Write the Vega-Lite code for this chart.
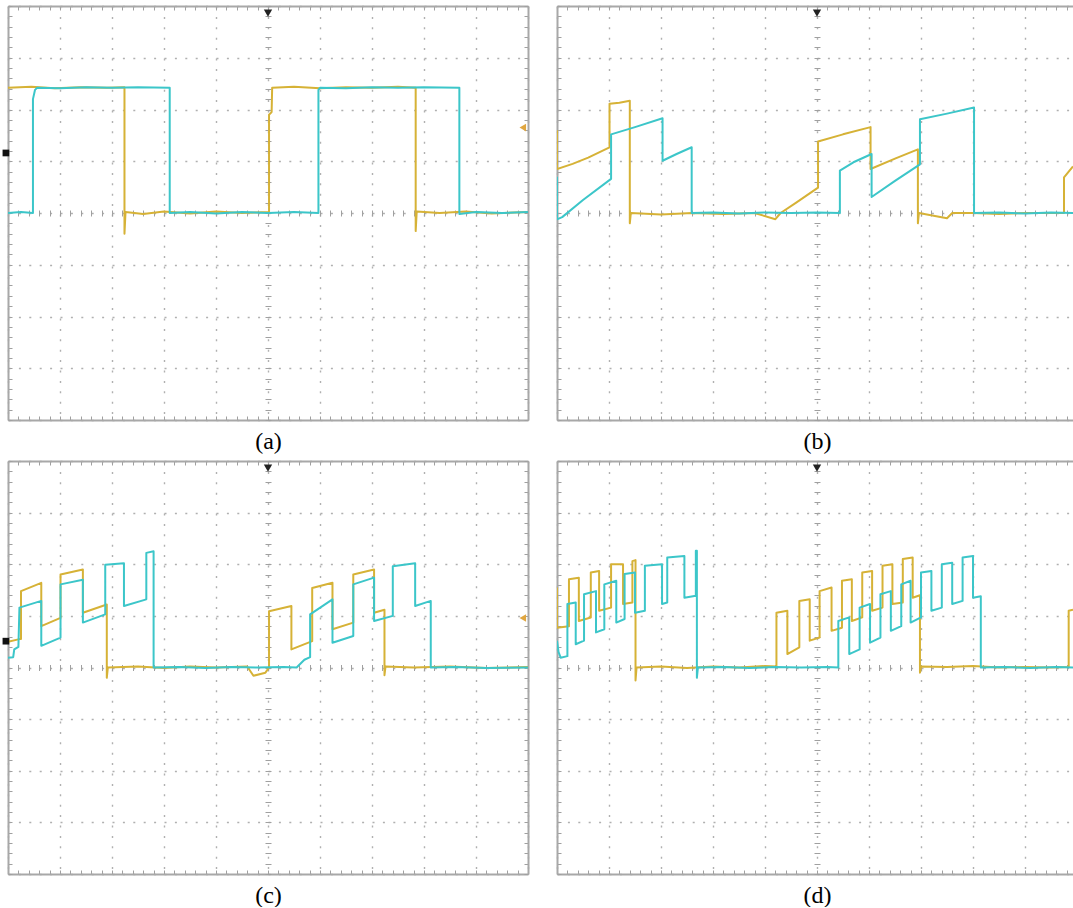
{
"$schema": "https://vega.github.io/schema/vega-lite/v6.json",
"padding": {"left": 2, "top": 5, "right": 0, "bottom": 0},
"background": "white",
"bounds": "flush",
"columns": 2,
"spacing": {"row": 41, "column": 29},
"config": {
  "view": {"stroke": null},
  "axis": {"labels": false, "grid": false, "domain": false, "ticks": true, "tickColor": "#a0a0a0", "tickWidth": 1, "tickSize": -4, "domainColor": "#a8a8a8", "domainWidth": 2, "gridColor": "#b0b0b0", "gridDash": [2, 8.4], "gridWidth": 1.4, "titleFont": "Liberation Serif", "titleFontSize": 24, "titleFontWeight": "normal", "titleColor": "#000000"}
},
"datasets": {
"a": [
{"ch":"Y","t":0,"v":2.42},{"ch":"Y","t":0.45,"v":2.44},{"ch":"Y","t":0.9,"v":2.41},{"ch":"Y","t":1.4,"v":2.43},{"ch":"Y","t":1.9,"v":2.42},{"ch":"Y","t":2.24,"v":2.43},{"ch":"Y","t":2.24,"v":-0.4},{"ch":"Y","t":2.26,"v":0.02},{"ch":"Y","t":2.6,"v":-0.02},{"ch":"Y","t":3.0,"v":0.03},{"ch":"Y","t":3.5,"v":-0.01},{"ch":"Y","t":4.0,"v":0.03},{"ch":"Y","t":4.5,"v":0.0},{"ch":"Y","t":5.02,"v":0.02},{"ch":"Y","t":5.02,"v":1.9},{"ch":"Y","t":5.07,"v":1.95},{"ch":"Y","t":5.08,"v":2.42},{"ch":"Y","t":5.5,"v":2.44},{"ch":"Y","t":6.0,"v":2.41},{"ch":"Y","t":6.5,"v":2.43},{"ch":"Y","t":7.0,"v":2.42},{"ch":"Y","t":7.5,"v":2.44},{"ch":"Y","t":7.84,"v":2.42},{"ch":"Y","t":7.84,"v":-0.35},{"ch":"Y","t":7.86,"v":0.03},{"ch":"Y","t":8.3,"v":0.0},{"ch":"Y","t":8.8,"v":0.03},{"ch":"Y","t":9.3,"v":-0.01},{"ch":"Y","t":10,"v":0.02},
{"ch":"C","t":0,"v":0.0},{"ch":"C","t":0.25,"v":0.02},{"ch":"C","t":0.48,"v":0.0},{"ch":"C","t":0.48,"v":2.2},{"ch":"C","t":0.52,"v":2.38},{"ch":"C","t":0.56,"v":2.42},{"ch":"C","t":1.0,"v":2.41},{"ch":"C","t":1.5,"v":2.43},{"ch":"C","t":2.0,"v":2.42},{"ch":"C","t":2.5,"v":2.43},{"ch":"C","t":3.11,"v":2.42},{"ch":"C","t":3.11,"v":0.0},{"ch":"C","t":3.5,"v":0.02},{"ch":"C","t":4.0,"v":-0.01},{"ch":"C","t":4.5,"v":0.02},{"ch":"C","t":5.0,"v":0.0},{"ch":"C","t":5.5,"v":0.02},{"ch":"C","t":5.97,"v":0.0},{"ch":"C","t":5.97,"v":2.38},{"ch":"C","t":6.0,"v":2.42},{"ch":"C","t":6.5,"v":2.41},{"ch":"C","t":7.0,"v":2.43},{"ch":"C","t":7.5,"v":2.42},{"ch":"C","t":8.0,"v":2.43},{"ch":"C","t":8.68,"v":2.42},{"ch":"C","t":8.68,"v":-0.02},{"ch":"C","t":9.0,"v":0.02},{"ch":"C","t":9.5,"v":0.0},{"ch":"C","t":10,"v":0.02}
],
"b": [
{"ch":"Y","t":0,"v":1.6},{"ch":"Y","t":0,"v":0.85},{"ch":"Y","t":0.3,"v":0.95},{"ch":"Y","t":0.6,"v":1.07},{"ch":"Y","t":1.01,"v":1.27},{"ch":"Y","t":1.01,"v":2.11},{"ch":"Y","t":1.2,"v":2.13},{"ch":"Y","t":1.4,"v":2.17},{"ch":"Y","t":1.4,"v":-0.2},{"ch":"Y","t":1.42,"v":0.0},{"ch":"Y","t":2.0,"v":-0.03},{"ch":"Y","t":2.6,"v":0.0},{"ch":"Y","t":3.2,"v":-0.02},{"ch":"Y","t":3.8,"v":0.0},{"ch":"Y","t":4.2,"v":-0.12},{"ch":"Y","t":4.3,"v":0.0},{"ch":"Y","t":4.6,"v":0.2},{"ch":"Y","t":5.02,"v":0.49},{"ch":"Y","t":5.02,"v":1.38},{"ch":"Y","t":5.5,"v":1.52},{"ch":"Y","t":6.03,"v":1.66},{"ch":"Y","t":6.03,"v":0.85},{"ch":"Y","t":6.5,"v":1.05},{"ch":"Y","t":6.94,"v":1.23},{"ch":"Y","t":6.94,"v":-0.2},{"ch":"Y","t":6.96,"v":0.0},{"ch":"Y","t":7.5,"v":-0.1},{"ch":"Y","t":7.6,"v":0.0},{"ch":"Y","t":8.0,"v":0.0},{"ch":"Y","t":8.5,"v":-0.02},{"ch":"Y","t":9.0,"v":0.0},{"ch":"Y","t":9.75,"v":0.0},{"ch":"Y","t":9.75,"v":0.69},{"ch":"Y","t":9.923,"v":0.9},
{"ch":"C","t":0,"v":0.7},{"ch":"C","t":0,"v":-0.12},{"ch":"C","t":0.1,"v":-0.08},{"ch":"C","t":0.5,"v":0.25},{"ch":"C","t":1.04,"v":0.66},{"ch":"C","t":1.04,"v":1.52},{"ch":"C","t":1.5,"v":1.66},{"ch":"C","t":2.03,"v":1.83},{"ch":"C","t":2.03,"v":1.01},{"ch":"C","t":2.3,"v":1.14},{"ch":"C","t":2.59,"v":1.27},{"ch":"C","t":2.59,"v":0.0},{"ch":"C","t":3.0,"v":0.01},{"ch":"C","t":3.5,"v":-0.01},{"ch":"C","t":4.0,"v":0.01},{"ch":"C","t":4.5,"v":0.0},{"ch":"C","t":5.0,"v":0.01},{"ch":"C","t":5.44,"v":0.0},{"ch":"C","t":5.44,"v":0.82},{"ch":"C","t":5.7,"v":0.98},{"ch":"C","t":6.05,"v":1.14},{"ch":"C","t":6.05,"v":0.31},{"ch":"C","t":6.5,"v":0.62},{"ch":"C","t":6.98,"v":0.94},{"ch":"C","t":6.98,"v":1.81},{"ch":"C","t":7.5,"v":1.92},{"ch":"C","t":8.02,"v":2.04},{"ch":"C","t":8.02,"v":0.0},{"ch":"C","t":8.5,"v":0.01},{"ch":"C","t":9.0,"v":-0.01},{"ch":"C","t":9.5,"v":0.01},{"ch":"C","t":9.923,"v":0.0}
],
"c": [
{"ch":"Y","t":0,"v":0.5},{"ch":"Y","t":0.22,"v":0.55},{"ch":"Y","t":0.25,"v":0.55},{"ch":"Y","t":0.25,"v":1.48},{"ch":"Y","t":0.64,"v":1.64},{"ch":"Y","t":0.64,"v":0.8},{"ch":"Y","t":1.01,"v":0.96},{"ch":"Y","t":1.01,"v":1.8},{"ch":"Y","t":1.44,"v":1.9},{"ch":"Y","t":1.44,"v":1.06},{"ch":"Y","t":1.9,"v":1.22},{"ch":"Y","t":1.9,"v":-0.2},{"ch":"Y","t":1.92,"v":0.0},{"ch":"Y","t":2.5,"v":0.02},{"ch":"Y","t":3.0,"v":-0.01},{"ch":"Y","t":3.5,"v":0.02},{"ch":"Y","t":4.0,"v":0.0},{"ch":"Y","t":4.6,"v":0.02},{"ch":"Y","t":4.72,"v":-0.16},{"ch":"Y","t":4.95,"v":-0.1},{"ch":"Y","t":5.02,"v":0.0},{"ch":"Y","t":5.02,"v":1.09},{"ch":"Y","t":5.45,"v":1.19},{"ch":"Y","t":5.45,"v":0.35},{"ch":"Y","t":5.85,"v":0.51},{"ch":"Y","t":5.85,"v":1.54},{"ch":"Y","t":6.24,"v":1.64},{"ch":"Y","t":6.24,"v":0.74},{"ch":"Y","t":6.64,"v":0.87},{"ch":"Y","t":6.64,"v":1.8},{"ch":"Y","t":7.04,"v":1.9},{"ch":"Y","t":7.04,"v":1.06},{"ch":"Y","t":7.24,"v":1.12},{"ch":"Y","t":7.24,"v":-0.15},{"ch":"Y","t":7.26,"v":0.02},{"ch":"Y","t":7.8,"v":0.0},{"ch":"Y","t":8.5,"v":0.02},{"ch":"Y","t":9.2,"v":-0.01},{"ch":"Y","t":10,"v":0.01},
{"ch":"C","t":0,"v":0.19},{"ch":"C","t":0.1,"v":0.2},{"ch":"C","t":0.12,"v":0.35},{"ch":"C","t":0.2,"v":0.4},{"ch":"C","t":0.22,"v":1.16},{"ch":"C","t":0.64,"v":1.29},{"ch":"C","t":0.64,"v":0.42},{"ch":"C","t":1.01,"v":0.58},{"ch":"C","t":1.01,"v":1.61},{"ch":"C","t":1.44,"v":1.7},{"ch":"C","t":1.44,"v":0.87},{"ch":"C","t":1.87,"v":1.03},{"ch":"C","t":1.87,"v":1.99},{"ch":"C","t":2.23,"v":2.02},{"ch":"C","t":2.23,"v":1.19},{"ch":"C","t":2.66,"v":1.32},{"ch":"C","t":2.66,"v":2.22},{"ch":"C","t":2.8,"v":2.25},{"ch":"C","t":2.8,"v":0.0},{"ch":"C","t":3.3,"v":0.01},{"ch":"C","t":3.8,"v":-0.01},{"ch":"C","t":4.3,"v":0.01},{"ch":"C","t":4.8,"v":0.0},{"ch":"C","t":5.3,"v":0.01},{"ch":"C","t":5.55,"v":0.0},{"ch":"C","t":5.7,"v":0.15},{"ch":"C","t":5.81,"v":0.2},{"ch":"C","t":5.81,"v":1.03},{"ch":"C","t":6.24,"v":1.32},{"ch":"C","t":6.24,"v":0.48},{"ch":"C","t":6.64,"v":0.61},{"ch":"C","t":6.64,"v":1.61},{"ch":"C","t":7.04,"v":1.74},{"ch":"C","t":7.04,"v":0.9},{"ch":"C","t":7.4,"v":1.0},{"ch":"C","t":7.4,"v":1.96},{"ch":"C","t":7.83,"v":2.02},{"ch":"C","t":7.83,"v":1.19},{"ch":"C","t":8.13,"v":1.29},{"ch":"C","t":8.13,"v":0.0},{"ch":"C","t":8.6,"v":0.01},{"ch":"C","t":9.2,"v":-0.01},{"ch":"C","t":10,"v":0.0}
],
"d": [
{"ch":"Y","t":0,"v":1.55},{"ch":"Y","t":0,"v":0.77},{"ch":"Y","t":0.23,"v":0.8},{"ch":"Y","t":0.23,"v":1.71},{"ch":"Y","t":0.42,"v":1.74},{"ch":"Y","t":0.42,"v":0.9},{"ch":"Y","t":0.65,"v":0.97},{"ch":"Y","t":0.65,"v":1.84},{"ch":"Y","t":0.81,"v":1.87},{"ch":"Y","t":0.81,"v":1.1},{"ch":"Y","t":1.04,"v":1.16},{"ch":"Y","t":1.04,"v":2.0},{"ch":"Y","t":1.27,"v":2.0},{"ch":"Y","t":1.27,"v":1.23},{"ch":"Y","t":1.45,"v":1.26},{"ch":"Y","t":1.45,"v":2.06},{"ch":"Y","t":1.51,"v":2.08},{"ch":"Y","t":1.51,"v":-0.25},{"ch":"Y","t":1.53,"v":0.0},{"ch":"Y","t":2.0,"v":0.02},{"ch":"Y","t":2.5,"v":-0.01},{"ch":"Y","t":3.0,"v":0.02},{"ch":"Y","t":3.5,"v":0.0},{"ch":"Y","t":4.0,"v":0.03},{"ch":"Y","t":4.22,"v":0.02},{"ch":"Y","t":4.22,"v":1.06},{"ch":"Y","t":4.43,"v":1.1},{"ch":"Y","t":4.43,"v":0.26},{"ch":"Y","t":4.66,"v":0.39},{"ch":"Y","t":4.66,"v":1.29},{"ch":"Y","t":4.86,"v":1.32},{"ch":"Y","t":4.86,"v":0.52},{"ch":"Y","t":5.05,"v":0.58},{"ch":"Y","t":5.05,"v":1.48},{"ch":"Y","t":5.28,"v":1.55},{"ch":"Y","t":5.28,"v":0.71},{"ch":"Y","t":5.48,"v":0.77},{"ch":"Y","t":5.48,"v":1.68},{"ch":"Y","t":5.67,"v":1.71},{"ch":"Y","t":5.67,"v":0.9},{"ch":"Y","t":5.87,"v":0.97},{"ch":"Y","t":5.87,"v":1.84},{"ch":"Y","t":6.06,"v":1.87},{"ch":"Y","t":6.06,"v":1.1},{"ch":"Y","t":6.26,"v":1.16},{"ch":"Y","t":6.26,"v":1.97},{"ch":"Y","t":6.45,"v":2.0},{"ch":"Y","t":6.45,"v":1.23},{"ch":"Y","t":6.65,"v":1.26},{"ch":"Y","t":6.65,"v":2.1},{"ch":"Y","t":6.84,"v":2.13},{"ch":"Y","t":6.84,"v":1.35},{"ch":"Y","t":6.98,"v":1.4},{"ch":"Y","t":6.98,"v":-0.1},{"ch":"Y","t":7.0,"v":0.02},{"ch":"Y","t":7.5,"v":0.01},{"ch":"Y","t":8.0,"v":0.03},{"ch":"Y","t":8.5,"v":0.0},{"ch":"Y","t":9.0,"v":0.01},{"ch":"Y","t":9.5,"v":0.0},{"ch":"Y","t":9.84,"v":0.01},{"ch":"Y","t":9.84,"v":1.1},{"ch":"Y","t":9.923,"v":1.12},
{"ch":"C","t":0,"v":0.52},{"ch":"C","t":0.03,"v":0.3},{"ch":"C","t":0.07,"v":0.19},{"ch":"C","t":0.2,"v":0.22},{"ch":"C","t":0.2,"v":1.23},{"ch":"C","t":0.36,"v":1.26},{"ch":"C","t":0.36,"v":0.45},{"ch":"C","t":0.52,"v":0.52},{"ch":"C","t":0.52,"v":1.42},{"ch":"C","t":0.75,"v":1.48},{"ch":"C","t":0.75,"v":0.68},{"ch":"C","t":0.91,"v":0.74},{"ch":"C","t":0.91,"v":1.61},{"ch":"C","t":1.14,"v":1.68},{"ch":"C","t":1.14,"v":0.87},{"ch":"C","t":1.3,"v":0.94},{"ch":"C","t":1.3,"v":1.81},{"ch":"C","t":1.5,"v":1.84},{"ch":"C","t":1.5,"v":1.06},{"ch":"C","t":1.69,"v":1.1},{"ch":"C","t":1.69,"v":1.97},{"ch":"C","t":2.02,"v":2.0},{"ch":"C","t":2.02,"v":1.23},{"ch":"C","t":2.12,"v":1.26},{"ch":"C","t":2.12,"v":2.13},{"ch":"C","t":2.45,"v":2.16},{"ch":"C","t":2.45,"v":1.35},{"ch":"C","t":2.67,"v":1.39},{"ch":"C","t":2.67,"v":2.26},{"ch":"C","t":2.69,"v":2.26},{"ch":"C","t":2.69,"v":-0.2},{"ch":"C","t":2.71,"v":0.0},{"ch":"C","t":3.2,"v":0.01},{"ch":"C","t":3.7,"v":-0.01},{"ch":"C","t":4.2,"v":0.01},{"ch":"C","t":4.7,"v":0.0},{"ch":"C","t":5.2,"v":0.01},{"ch":"C","t":5.41,"v":0.0},{"ch":"C","t":5.41,"v":0.9},{"ch":"C","t":5.62,"v":0.97},{"ch":"C","t":5.62,"v":0.26},{"ch":"C","t":5.82,"v":0.35},{"ch":"C","t":5.82,"v":1.16},{"ch":"C","t":6.02,"v":1.23},{"ch":"C","t":6.02,"v":0.48},{"ch":"C","t":6.22,"v":0.58},{"ch":"C","t":6.22,"v":1.42},{"ch":"C","t":6.42,"v":1.48},{"ch":"C","t":6.42,"v":0.71},{"ch":"C","t":6.62,"v":0.8},{"ch":"C","t":6.62,"v":1.61},{"ch":"C","t":6.8,"v":1.68},{"ch":"C","t":6.8,"v":0.87},{"ch":"C","t":7.0,"v":0.97},{"ch":"C","t":7.0,"v":1.84},{"ch":"C","t":7.2,"v":1.87},{"ch":"C","t":7.2,"v":1.1},{"ch":"C","t":7.4,"v":1.16},{"ch":"C","t":7.4,"v":2.0},{"ch":"C","t":7.6,"v":2.03},{"ch":"C","t":7.6,"v":1.23},{"ch":"C","t":7.8,"v":1.29},{"ch":"C","t":7.8,"v":2.13},{"ch":"C","t":8.0,"v":2.16},{"ch":"C","t":8.0,"v":1.35},{"ch":"C","t":8.15,"v":1.38},{"ch":"C","t":8.15,"v":0.0},{"ch":"C","t":8.6,"v":0.01},{"ch":"C","t":9.1,"v":-0.01},{"ch":"C","t":9.6,"v":0.01},{"ch":"C","t":9.923,"v":0.0}
],
"ma": [{"k":"trig","t":5,"v":3.86},{"k":"lvl","t":9.9,"v":1.65},{"k":"gnd","t":-0.04,"v":1.16}],
"mb": [{"k":"trig","t":5,"v":3.86}],
"mc": [{"k":"trig","t":5,"v":3.86},{"k":"lvl","t":9.9,"v":0.96},{"k":"gnd","t":-0.04,"v":0.51}],
"md": [{"k":"trig","t":5,"v":3.86}]
},
"concat": [
{"width": 520, "height": 414, "data": {"name": "a"},
 "resolve": {"axis": {"x": "independent", "y": "independent"}},
 "layer": [
  {"transform": [{"filter": "datum.ch === 'Y'"}], "mark": {"type": "line", "color": "#D6B236", "strokeWidth": 2, "strokeJoin": "round", "clip": true},
   "encoding": {
    "x": {"field": "t", "type": "quantitative", "scale": {"domain": [0, 10], "nice": false, "zero": false}, "axis": {"orient": "bottom", "tickCount": 50, "grid": true, "gridOpacity": {"condition": {"test": "datum.value % 1 === 0", "value": 1}, "value": 0}, "domain": true, "title": "(a)", "titleBaseline": "alphabetic", "titleY": 28, "titleX": 260}},
    "y": {"field": "v", "type": "quantitative", "scale": {"domain": [-4, 4], "nice": false, "zero": false}, "axis": {"orient": "left", "tickCount": 40, "grid": true, "gridOpacity": {"condition": {"test": "datum.value % 1 === 0", "value": 1}, "value": 0}, "domain": true, "title": null}},
    "order": {"value": null}}},
  {"transform": [{"filter": "datum.ch === 'C'"}], "mark": {"type": "line", "color": "#3CC6C9", "strokeWidth": 2, "strokeJoin": "round", "clip": true},
   "encoding": {
    "x": {"field": "t", "type": "quantitative", "axis": {"orient": "top", "tickCount": 50, "domain": true, "title": null}},
    "y": {"field": "v", "type": "quantitative", "axis": {"orient": "right", "tickCount": 40, "domain": true, "title": null}},
    "order": {"value": null}}},
  {"data": {"name": "ma"}, "mark": {"type": "point", "filled": true, "opacity": 1},
   "encoding": {
    "x": {"field": "t", "type": "quantitative", "axis": {"orient": "bottom", "offset": -210, "tickCount": 50, "tickSize": 6, "title": null}},
    "y": {"field": "v", "type": "quantitative", "axis": {"orient": "left", "offset": -263, "tickCount": 40, "tickSize": 6, "title": null}},
    "shape": {"field": "k", "type": "nominal", "scale": {"domain": ["trig", "lvl", "gnd"], "range": ["triangle-down", "triangle-left", "square"]}, "legend": null},
    "color": {"field": "k", "type": "nominal", "scale": {"domain": ["trig", "lvl", "gnd"], "range": ["#222222", "#E0A640", "#111111"]}, "legend": null},
    "size": {"field": "k", "type": "ordinal", "scale": {"domain": ["trig", "lvl", "gnd"], "range": [70, 45, 12]}, "legend": null}}}
 ]},
{"width": 516, "height": 414, "data": {"name": "b"},
 "resolve": {"axis": {"x": "independent", "y": "independent"}},
 "layer": [
  {"transform": [{"filter": "datum.ch === 'Y'"}], "mark": {"type": "line", "color": "#D6B236", "strokeWidth": 2, "strokeJoin": "round", "clip": true},
   "encoding": {
    "x": {"field": "t", "type": "quantitative", "scale": {"domain": [0, 9.923], "nice": false, "zero": false}, "axis": {"orient": "bottom", "tickCount": 50, "grid": true, "gridOpacity": {"condition": {"test": "datum.value % 1 === 0", "value": 1}, "value": 0}, "domain": true, "title": "(b)", "titleBaseline": "alphabetic", "titleY": 28, "titleX": 260}},
    "y": {"field": "v", "type": "quantitative", "scale": {"domain": [-4, 4], "nice": false, "zero": false}, "axis": {"orient": "left", "tickCount": 40, "grid": true, "gridOpacity": {"condition": {"test": "datum.value % 1 === 0", "value": 1}, "value": 0}, "domain": true, "title": null}},
    "order": {"value": null}}},
  {"transform": [{"filter": "datum.ch === 'C'"}], "mark": {"type": "line", "color": "#3CC6C9", "strokeWidth": 2, "strokeJoin": "round", "clip": true},
   "encoding": {
    "x": {"field": "t", "type": "quantitative", "axis": {"orient": "top", "tickCount": 50, "domain": true, "title": null}},
    "y": {"field": "v", "type": "quantitative", "axis": null},
    "order": {"value": null}}},
  {"data": {"name": "mb"}, "mark": {"type": "point", "filled": true, "opacity": 1},
   "encoding": {
    "x": {"field": "t", "type": "quantitative", "axis": {"orient": "bottom", "offset": -210, "tickCount": 50, "tickSize": 6, "title": null}},
    "y": {"field": "v", "type": "quantitative", "axis": {"orient": "left", "offset": -263, "tickCount": 40, "tickSize": 6, "title": null}},
    "shape": {"field": "k", "type": "nominal", "scale": {"domain": ["trig", "lvl", "gnd"], "range": ["triangle-down", "triangle-left", "square"]}, "legend": null},
    "color": {"field": "k", "type": "nominal", "scale": {"domain": ["trig", "lvl", "gnd"], "range": ["#222222", "#E0A640", "#111111"]}, "legend": null},
    "size": {"field": "k", "type": "ordinal", "scale": {"domain": ["trig", "lvl", "gnd"], "range": [70, 45, 12]}, "legend": null}}}
 ]},
{"width": 520, "height": 413, "data": {"name": "c"},
 "resolve": {"axis": {"x": "independent", "y": "independent"}},
 "layer": [
  {"transform": [{"filter": "datum.ch === 'Y'"}], "mark": {"type": "line", "color": "#D6B236", "strokeWidth": 2, "strokeJoin": "round", "clip": true},
   "encoding": {
    "x": {"field": "t", "type": "quantitative", "scale": {"domain": [0, 10], "nice": false, "zero": false}, "axis": {"orient": "bottom", "tickCount": 50, "grid": true, "gridOpacity": {"condition": {"test": "datum.value % 1 === 0", "value": 1}, "value": 0}, "domain": true, "title": "(c)", "titleBaseline": "alphabetic", "titleY": 28, "titleX": 260}},
    "y": {"field": "v", "type": "quantitative", "scale": {"domain": [-4, 4], "nice": false, "zero": false}, "axis": {"orient": "left", "tickCount": 40, "grid": true, "gridOpacity": {"condition": {"test": "datum.value % 1 === 0", "value": 1}, "value": 0}, "domain": true, "title": null}},
    "order": {"value": null}}},
  {"transform": [{"filter": "datum.ch === 'C'"}], "mark": {"type": "line", "color": "#3CC6C9", "strokeWidth": 2, "strokeJoin": "round", "clip": true},
   "encoding": {
    "x": {"field": "t", "type": "quantitative", "axis": {"orient": "top", "tickCount": 50, "domain": true, "title": null}},
    "y": {"field": "v", "type": "quantitative", "axis": {"orient": "right", "tickCount": 40, "domain": true, "title": null}},
    "order": {"value": null}}},
  {"data": {"name": "mc"}, "mark": {"type": "point", "filled": true, "opacity": 1},
   "encoding": {
    "x": {"field": "t", "type": "quantitative", "axis": {"orient": "bottom", "offset": -209.5, "tickCount": 50, "tickSize": 6, "title": null}},
    "y": {"field": "v", "type": "quantitative", "axis": {"orient": "left", "offset": -263, "tickCount": 40, "tickSize": 6, "title": null}},
    "shape": {"field": "k", "type": "nominal", "scale": {"domain": ["trig", "lvl", "gnd"], "range": ["triangle-down", "triangle-left", "square"]}, "legend": null},
    "color": {"field": "k", "type": "nominal", "scale": {"domain": ["trig", "lvl", "gnd"], "range": ["#222222", "#E0A640", "#111111"]}, "legend": null},
    "size": {"field": "k", "type": "ordinal", "scale": {"domain": ["trig", "lvl", "gnd"], "range": [70, 45, 12]}, "legend": null}}}
 ]},
{"width": 516, "height": 413, "data": {"name": "d"},
 "resolve": {"axis": {"x": "independent", "y": "independent"}},
 "layer": [
  {"transform": [{"filter": "datum.ch === 'Y'"}], "mark": {"type": "line", "color": "#D6B236", "strokeWidth": 2, "strokeJoin": "round", "clip": true},
   "encoding": {
    "x": {"field": "t", "type": "quantitative", "scale": {"domain": [0, 9.923], "nice": false, "zero": false}, "axis": {"orient": "bottom", "tickCount": 50, "grid": true, "gridOpacity": {"condition": {"test": "datum.value % 1 === 0", "value": 1}, "value": 0}, "domain": true, "title": "(d)", "titleBaseline": "alphabetic", "titleY": 28, "titleX": 260}},
    "y": {"field": "v", "type": "quantitative", "scale": {"domain": [-4, 4], "nice": false, "zero": false}, "axis": {"orient": "left", "tickCount": 40, "grid": true, "gridOpacity": {"condition": {"test": "datum.value % 1 === 0", "value": 1}, "value": 0}, "domain": true, "title": null}},
    "order": {"value": null}}},
  {"transform": [{"filter": "datum.ch === 'C'"}], "mark": {"type": "line", "color": "#3CC6C9", "strokeWidth": 2, "strokeJoin": "round", "clip": true},
   "encoding": {
    "x": {"field": "t", "type": "quantitative", "axis": {"orient": "top", "tickCount": 50, "domain": true, "title": null}},
    "y": {"field": "v", "type": "quantitative", "axis": null},
    "order": {"value": null}}},
  {"data": {"name": "md"}, "mark": {"type": "point", "filled": true, "opacity": 1},
   "encoding": {
    "x": {"field": "t", "type": "quantitative", "axis": {"orient": "bottom", "offset": -209.5, "tickCount": 50, "tickSize": 6, "title": null}},
    "y": {"field": "v", "type": "quantitative", "axis": {"orient": "left", "offset": -263, "tickCount": 40, "tickSize": 6, "title": null}},
    "shape": {"field": "k", "type": "nominal", "scale": {"domain": ["trig", "lvl", "gnd"], "range": ["triangle-down", "triangle-left", "square"]}, "legend": null},
    "color": {"field": "k", "type": "nominal", "scale": {"domain": ["trig", "lvl", "gnd"], "range": ["#222222", "#E0A640", "#111111"]}, "legend": null},
    "size": {"field": "k", "type": "ordinal", "scale": {"domain": ["trig", "lvl", "gnd"], "range": [70, 45, 12]}, "legend": null}}}
 ]}
]
}
